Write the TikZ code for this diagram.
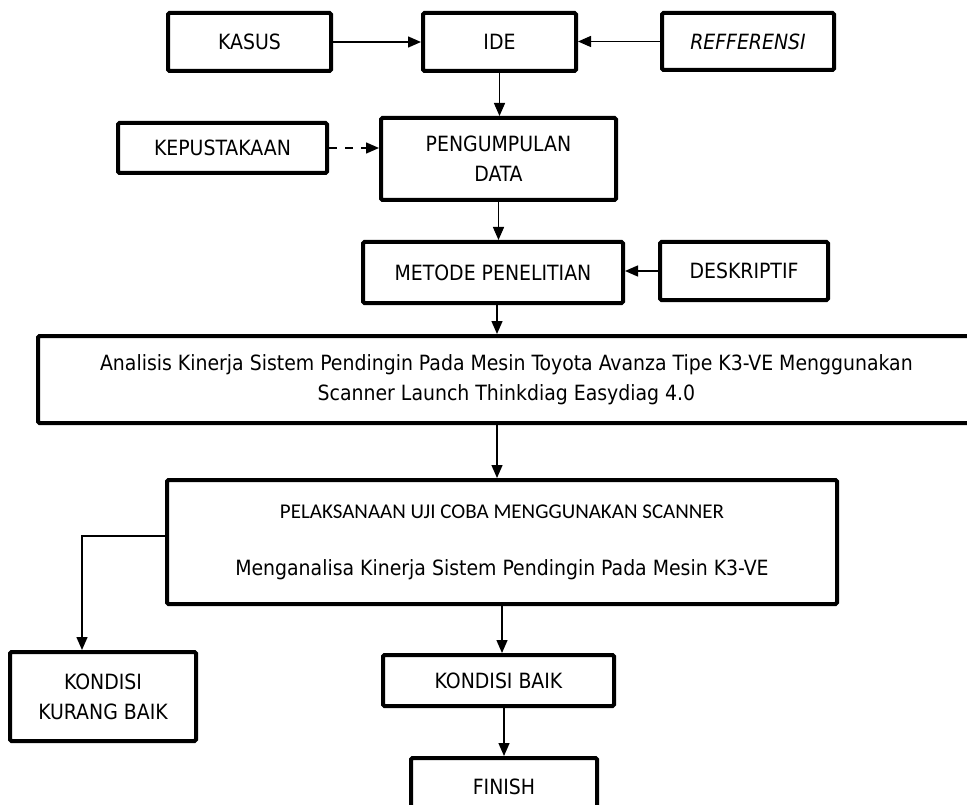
\documentclass[tikz,border=0pt]{standalone}
\usepackage{fontspec}
\setmainfont{DejaVu Sans Condensed}
\newfontfamily\calibrifont{Carlito}
\usepackage{tikz}
\usetikzlibrary{positioning, arrows.meta, calc}

\begin{document}
\begin{tikzpicture}[
    x=1pt, y=-1pt,
    box/.style={rectangle, draw, line width=4pt, rounded corners=1.5pt, inner sep=0pt, align=center, font=\fontsize{21}{30}\selectfont},
    >={Triangle[length=13pt, width=11pt]},
    flow/.style={->, line width=1.4pt}
]
    \useasboundingbox (0,0) rectangle (967,805);
    \clip (0,0) rectangle (967,805);

    % Top row: sources of the idea
    \node[box, minimum width=163pt, minimum height=58pt] (kasus) at (249.5,42) {KASUS};
    \node[box, minimum width=153pt, minimum height=58pt] (ide) at (499.5,42) {IDE};
    \node[box, minimum width=172pt, minimum height=57pt] (ref) at (748,41.5) {\itshape REFFERENSI};
    \draw[flow] (kasus.east) -- (kasus.east -| ide.west);
    \draw[flow] (ref.west) -- (ref.west -| ide.east);

    % Data collection
    \node[box, minimum width=209pt, minimum height=50pt] (kep) at (222.5,148) {KEPUSTAKAAN};
    \node[box, minimum width=235pt, minimum height=82pt] (peng) at (498.5,159) {PENGUMPULAN\\DATA};
    \draw[flow] (ide.south) -- (ide.south |- peng.north);
    \draw[flow, dash pattern=on 8pt off 8pt] (kep.east) -- (kep.east -| peng.west);

    % Method
    \node[box, minimum width=260pt, minimum height=61pt] (metode) at (493,272.5) {METODE PENELITIAN};
    \node[box, minimum width=168pt, minimum height=58pt] (desk) at (744,271) {DESKRIPTIF};
    \draw[flow] (peng.south) -- (peng.south |- metode.north);
    \draw[flow] (desk.west) -- (desk.west -| metode.east);

    % Title of the study
    \node[box, minimum width=937pt, minimum height=87pt] (analisis) at (506.5,379.5)
        {Analisis Kinerja Sistem Pendingin Pada Mesin Toyota Avanza Tipe K3-VE Menggunakan\\Scanner Launch Thinkdiag Easydiag 4.0};
    \draw[flow] ($(metode.south)+(4,0)$) -- ($(metode.south |- analisis.north)+(4,0)$);

    % Test run
    \node[box, minimum width=670pt, minimum height=124pt] (pel) at (502,542)
        {{\calibrifont\fontsize{21}{30}\selectfont PELAKSANAAN UJI COBA MENGGUNAKAN SCANNER}\\[27pt]Menganalisa Kinerja Sistem Pendingin Pada Mesin K3-VE};
    \draw[flow] ($(pel.north |- analisis.south)+(-5,0)$) -- ($(pel.north)+(-5,0)$);

    % Results
    \node[box, minimum width=186pt, minimum height=89pt] (kkb) at (103,696.5) {KONDISI\\KURANG BAIK};
    \node[box, minimum width=231pt, minimum height=51pt] (kb) at (498.5,680.5) {KONDISI BAIK};
    \node[box, minimum width=186pt, minimum height=58pt] (fin) at (504,787) {FINISH};
    \draw[flow] ($(pel.west)+(0,-6)$) -| ($(kkb.north)+(-21,0)$);
    \draw[flow] (pel.south) -- (pel.south |- kb.north);
    \draw[flow] (fin.north |- kb.south) -- (fin.north);
\end{tikzpicture}
\end{document}
